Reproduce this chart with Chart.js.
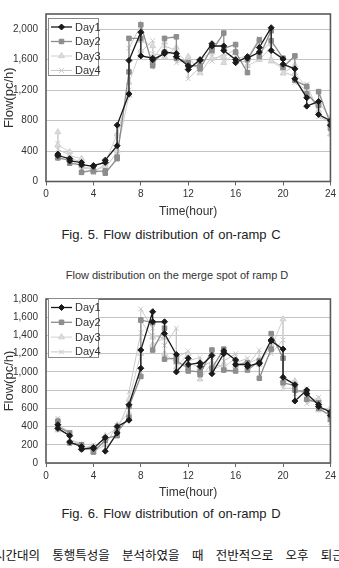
<!DOCTYPE html>
<html>
<head>
<meta charset="utf-8">
<script src="https://cdn.jsdelivr.net/npm/chart.js@4.4.0/dist/chart.umd.min.js"></script>
<style>
html, body { margin: 0; padding: 0; background: #fff; }
body { width: 339px; height: 568px; position: relative; overflow: hidden; font-family: "Liberation Sans", Arial, sans-serif; color: #222; }
canvas { position: absolute; left: 0; }
#c1 { top: 0; }
#c2 { top: 285px; }
.title { position: absolute; left: 57px; width: 240px; text-align: center; font-size: 11px; line-height: 13px; color: #333; white-space: nowrap; }
.caption { position: absolute; left: 0; width: 342px; text-align: center; font-size: 13px; line-height: 15px; word-spacing: 1px; white-space: nowrap; }
.body-text { position: absolute; left: -6px; top: 547px; font-family: "Noto Sans CJK KR", sans-serif; font-size: 12.5px; line-height: 16px; word-spacing: 9.5px; white-space: nowrap; color: #111; }
</style>
</head>
<body>
<div class="title" style="top:-13px">Flow distribution on the merge spot of ramp C</div>
<canvas id="c1" width="339" height="220"></canvas>
<div class="caption" style="top:227px">Fig. 5. Flow distribution of on-ramp C</div>

<div class="title" style="top:269px">Flow distribution on the merge spot of ramp D</div>
<canvas id="c2" width="339" height="215"></canvas>
<div class="caption" style="top:506px">Fig. 6. Flow distribution of on-ramp D</div>

<div class="body-text">시간대의 통행특성을 분석하였을 때 전반적으로 오후 퇴근</div>

<script>
// hours on the x axis, two readings per hour for each day
const hours = [1,2,3,4,5,6,7,8,9,10,11,12,13,14,15,16,17,18,19,20,21,22,23,24]
const dayLabels = ["Day1", "Day2", "Day3", "Day4"]

// ramp C (Fig. 5)
const rampC_day1 = [[360,340],[300,270],[250,220],[200,210],[250,280],[470,740],[1150,1590],[1960,1650],[1620,1600],[1680,1700],[1680,1640],[1520,1470],[1600,1590],[1810,1780],[1780,1720],[1600,1560],[1640,1620],[1700,1760],[2020,1720],[1610,1540],[1480,1350],[1100,990],[1050,880],[800,740]]
const rampC_day2 = [[320,310],[280,240],[220,120],[150,130],[140,110],[300,320],[1440,1880],[1880,2060],[1520,1560],[1700,1880],[1900,1620],[1560,1520],[1520,1480],[1760,1720],[1950,1750],[1800,1700],[1430,1600],[1860,1640],[1980,1850],[1620,1500],[1650,1330],[1250,1150],[1000,1180],[760,700]]
const rampC_day3 = [[650,480],[390,340],[300,200],[160,140],[200,250],[620,400],[1130,1300],[1720,1850],[1780,1600],[1830,1640],[1760,1700],[1560,1640],[1430,1600],[1700,1620],[1640,1560],[1700,1620],[1640,1520],[1600,1700],[1820,1580],[1480,1420],[1530,1420],[1240,1200],[930,1050],[830,620]]
const rampC_day4 = [[500,420],[350,300],[260,170],[180,120],[230,180],[380,600],[1200,1750],[2050,1700],[1850,1680],[1650,1780],[1720,1560],[1600,1350],[1500,1420],[1640,1580],[1680,1640],[1740,1600],[1560,1620],[1880,1600],[1760,1600],[1500,1440],[1380,1300],[1200,1280],[900,850],[780,680]]

// ramp D (Fig. 6)
const rampD_day1 = [[420,380],[300,230],[180,150],[170,160],[280,130],[330,400],[470,640],[1040,1240],[1660,1550],[1550,1420],[1190,1000],[1150,1080],[1100,1060],[1180,980],[1200,1230],[1130,1080],[1080,1060],[1100,1090],[1350,1340],[1250,940],[860,680],[800,760],[640,620],[560,520]]
const rampD_day2 = [[460,400],[330,220],[200,160],[150,120],[250,270],[300,340],[500,620],[950,1570],[1540,1240],[1480,1140],[1150,1120],[1040,1010],[1000,970],[1240,1040],[1250,1020],[1010,1080],[1100,1020],[1120,930],[1250,1420],[1150,880],[850,800],[780,700],[660,600],[520,480]]
const rampD_day3 = [[470,360],[310,250],[200,170],[180,120],[200,300],[380,420],[550,700],[1200,1560],[1380,1300],[1380,1200],[1100,1050],[1200,1100],[1050,920],[1100,1020],[1080,1050],[1150,1060],[1120,1090],[1150,1080],[1300,1260],[1580,900],[900,800],[760,700],[700,580],[600,470]]
const rampD_day4 = [[490,420],[340,260],[210,150],[200,140],[240,200],[410,360],[660,780],[1430,1690],[1480,1400],[1370,1290],[1480,1150],[1230,1120],[1160,1040],[1120,1080],[1060,1120],[1200,1100],[1150,1070],[1240,1120],[1320,1200],[1350,820],[820,760],[820,650],[720,600],[580,440]]

const estilos = [
    { color: '#1a1a1a', fondo: '#1a1a1a', punto: 'rectRot', radio: 3, ancho: 1.3 },
    { color: '#8c8c8c', fondo: '#8e8e8e', punto: 'rect', radio: 3.2, ancho: 1.3 },
    { color: '#d0d0d0', fondo: '#dcdcdc', punto: 'triangle', radio: 3.4, ancho: 1 },
    { color: '#c8c8c8', fondo: '#e6e6e6', punto: 'crossRot', radio: 3.4, ancho: 1 },
]

function aPuntos(pares) {
    return hours.flatMap((h, i) => pares[i].map(v => ({ x: h, y: v })))
}

function series(dias) {
    return dias.map((pares, i) => {
        const e = estilos[i]
        return {
            label: dayLabels[i],
            data: aPuntos(pares),
            showLine: true,
            borderColor: e.color,
            borderWidth: e.ancho,
            pointStyle: e.punto,
            pointRadius: e.radio,
            pointBackgroundColor: e.fondo,
            pointBorderColor: e.color,
            pointBorderWidth: 1,
        }
    })
}

// frame around the plot and the boxed legend in the top left corner
const marcoLeyenda = {
    id: 'marcoLeyenda',
    afterDatasetsDraw(chart, args, opts) {
        const { ctx, chartArea: a } = chart
        ctx.save()
        ctx.strokeStyle = '#5a5a5a'
        ctx.lineWidth = 1.6
        ctx.strokeRect(a.left, a.top, a.right - a.left, a.bottom - a.top)

        const x = opts.x, y = opts.y
        ctx.fillStyle = '#fff'
        ctx.fillRect(x, y, 50, opts.alto)
        ctx.strokeStyle = '#8a8a8a'
        ctx.lineWidth = 1
        ctx.strokeRect(x + 0.5, y + 0.5, 50, opts.alto)
        chart.data.datasets.forEach((ds, i) => {
            const ly = y + opts.primera + i * opts.paso
            ctx.strokeStyle = ds.borderColor
            ctx.lineWidth = ds.borderWidth
            ctx.beginPath()
            ctx.moveTo(x + 3, ly)
            ctx.lineTo(x + 24, ly)
            ctx.stroke()
            ctx.fillStyle = ds.pointBackgroundColor
            ctx.strokeStyle = ds.pointBorderColor
            ctx.lineWidth = 1
            Chart.helpers.drawPoint(ctx, { pointStyle: ds.pointStyle, radius: ds.pointRadius, borderWidth: 1 }, x + 13.5, ly)
            ctx.fillStyle = '#333'
            ctx.font = '11px "Liberation Sans", Arial, sans-serif'
            ctx.textBaseline = 'middle'
            ctx.fillText(ds.label, x + 27, ly + 0.5)
        })
        ctx.restore()
    }
}

function grafica(id, dias, opt) {
    new Chart(document.getElementById(id), {
        type: 'scatter',
        data: { datasets: series(dias) },
        options: {
            responsive: false,
            animation: false,
            locale: 'en-US',
            layout: { padding: { top: opt.arriba, right: 6, left: 0, bottom: 0 } },
            plugins: {
                legend: { display: false },
                tooltip: { enabled: false },
                marcoLeyenda: opt.leyenda,
            },
            scales: {
                x: {
                    type: 'linear',
                    min: 0, max: 24,
                    ticks: { stepSize: 4, padding: 3, color: '#333', font: { size: 10, family: '"Liberation Sans", Arial' } },
                    grid: { drawOnChartArea: false, tickLength: 4, color: '#666' },
                    border: { display: false },
                    title: { display: true, text: 'Time(hour)', color: '#333', padding: { top: 0, bottom: opt.pieTitulo }, font: { size: 12, family: '"Liberation Sans", Arial' } },
                    afterFit: s => { s.height = opt.altoX },
                },
                y: {
                    min: 0, max: opt.max,
                    ticks: { stepSize: opt.paso, padding: 8, color: '#333', font: { size: 10, family: '"Liberation Sans", Arial' } },
                    afterBuildTicks: s => { s.ticks = s.ticks.filter(t => t.value <= opt.ultimo) },
                    grid: { color: '#c4c4c4', lineWidth: 1, drawTicks: false },
                    border: { display: false },
                    title: { display: true, text: 'Flow(pc/h)', color: '#333', padding: { top: 2, bottom: 0 }, font: { size: 13, family: '"Liberation Sans", Arial' } },
                    afterFit: s => { s.width = 46 },
                }
            }
        },
        plugins: [marcoLeyenda]
    })
}

grafica('c1', [rampC_day1, rampC_day2, rampC_day3, rampC_day4], {
    arriba: 14, altoX: 38.5, pieTitulo: 1, max: 2200, paso: 400, ultimo: 2000,
    leyenda: { x: 48, y: 18, alto: 57, primera: 9, paso: 14.5 }
})
grafica('c2', [rampD_day1, rampD_day2, rampD_day3, rampD_day4], {
    arriba: 11.5, altoX: 37, pieTitulo: 0, max: 1800, paso: 200, ultimo: 1800,
    leyenda: { x: 48, y: 13, alto: 59, primera: 9.5, paso: 14.8 }
})
</script>
</body>
</html>
